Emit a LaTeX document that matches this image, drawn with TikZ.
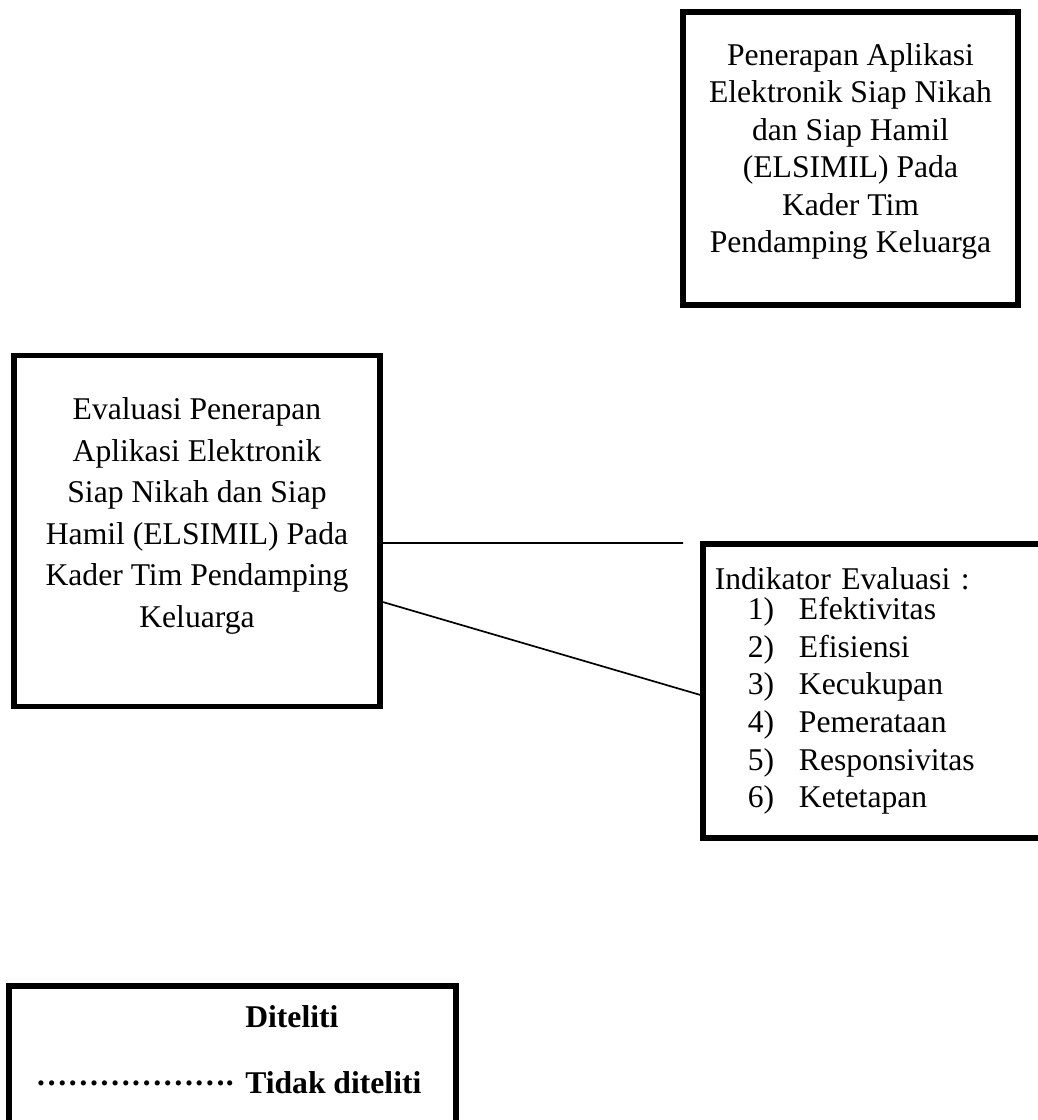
\documentclass[tikz,border=0pt]{standalone}
\usepackage{fontspec}
\setmainfont{Liberation Serif}

\begin{document}
\begin{tikzpicture}[x=0.025cm, y=-0.025cm]
    \path[use as bounding box, clip] (0,0) rectangle (1038,1120);

    \begin{scope}[every node/.style={draw, line width=4pt, inner sep=0pt, align=center,
            font=\fontsize{22.5}{26.7}\selectfont}]
        \node[minimum width=8.375cm, minimum height=7.325cm, text depth=15pt] (penerapan) at (850.5,158.5)
            {Penerapan Aplikasi\\Elektronik Siap Nikah\\dan Siap Hamil\\(ELSIMIL) Pada\\Kader Tim\\Pendamping Keluarga};
        \node[minimum width=9.15cm, minimum height=8.775cm, text depth=26pt,
              font=\fontsize{22.5}{29.5}\selectfont] (evaluasi) at (197,531)
            {Evaluasi Penerapan\\Aplikasi Elektronik\\Siap Nikah dan Siap\\Hamil (ELSIMIL) Pada\\Kader Tim Pendamping\\Keluarga};
        \node[anchor=north west, align=left, text width=9.4cm, inner xsep=0.3cm, minimum height=7.35cm] (indikator) at (700,541)
            {Indikator Evaluasi :\\[-5pt]
             \hspace*{0.825cm}1)\hspace{0.62cm}Efektivitas\\
             \hspace*{0.825cm}2)\hspace{0.62cm}Efisiensi\\
             \hspace*{0.825cm}3)\hspace{0.62cm}Kecukupan\\
             \hspace*{0.825cm}4)\hspace{0.62cm}Pemerataan\\
             \hspace*{0.825cm}5)\hspace{0.62cm}Responsivitas\\
             \hspace*{0.825cm}6)\hspace{0.62cm}Ketetapan};
        \node[anchor=north west, minimum width=11.175cm, minimum height=4cm] (legenda) at (6,983) {};
    \end{scope}

    \coordinate (ujung) at (683,543);

    \begin{scope}[every edge/.style={draw, line width=1.2pt}]
        \path [-] ([yshift=-0.3cm]evaluasi.east) edge (ujung);
        \path [-] ([yshift=-1.775cm]evaluasi.east) edge ([yshift=-0.1cm]indikator.west);
    \end{scope}

    \begin{scope}[every node/.style={font=\bfseries\fontsize{22.5}{26.7}\selectfont, inner sep=0pt}]
        \node[anchor=west] (diteliti) at (245,1017) {Diteliti};
        \node[anchor=east] (titik) at (234,1083) {……………….};
        \node[anchor=west] (tidakditeliti) at (245,1083) {Tidak diteliti};
    \end{scope}
\end{tikzpicture}
\end{document}
